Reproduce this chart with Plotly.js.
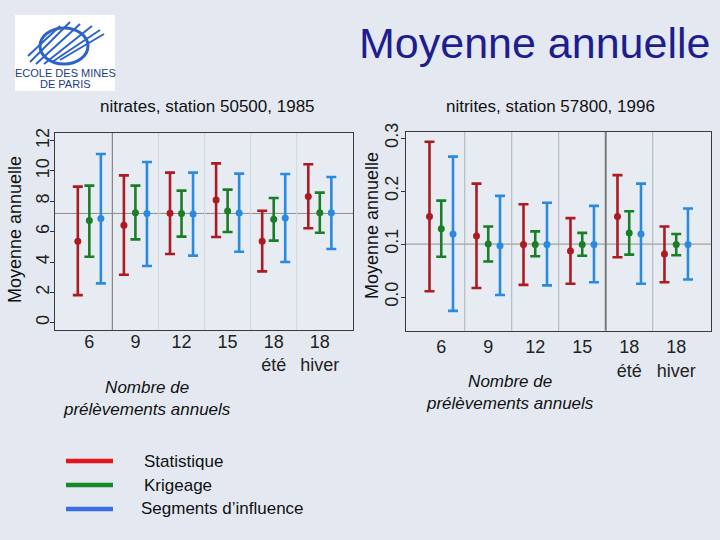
<!DOCTYPE html>
<html><head><meta charset="utf-8">
<script src="https://cdn.plot.ly/plotly-3.0.1.min.js"></script>
<style>body{margin:0;background:#e4e9f1}</style>
</head><body><div id="chart" style="width:720px;height:540px"></div>
<script>
// ---- data ----
const groups = ['6', '9', '12', '15', '18<br>été', '18<br>hiver'];
const seriesNames = ['Statistique', 'Krigeage', 'Segments d\u2019influence'];

// nitrates, station 50500, 1985
const nitStatMean = [5.36, 6.42, 7.21, 8.09, 5.36, 8.31];
const nitStatLow  = [1.82, 3.16, 4.53, 5.65, 3.38, 6.22];
const nitStatHigh = [8.97, 9.71, 9.89, 10.50, 7.38, 10.44];
const nitKrigMean = [6.73, 7.25, 7.19, 7.36, 6.81, 7.25];
const nitKrigLow  = [4.35, 5.49, 5.67, 5.98, 5.41, 5.93];
const nitKrigHigh = [9.03, 9.03, 8.70, 8.77, 8.22, 8.57];
const nitSegMean  = [6.86, 7.19, 7.16, 7.23, 6.90, 7.25];
const nitSegLow   = [2.59, 3.74, 4.42, 4.68, 4.00, 4.86];
const nitSegHigh  = [11.12, 10.59, 9.89, 9.82, 9.80, 9.60];
const nitRef = 7.2;

// nitrites, station 57800, 1996
const ntiStatMean = [0.152, 0.115, 0.099, 0.087, 0.152, 0.081];
const ntiStatLow  = [0.011, 0.017, 0.023, 0.025, 0.075, 0.028];
const ntiStatHigh = [0.293, 0.214, 0.175, 0.149, 0.230, 0.133];
const ntiKrigMean = [0.129, 0.100, 0.099, 0.099, 0.121, 0.099];
const ntiKrigLow  = [0.076, 0.067, 0.077, 0.078, 0.080, 0.079];
const ntiKrigHigh = [0.182, 0.133, 0.124, 0.121, 0.162, 0.119];
const ntiSegMean  = [0.119, 0.097, 0.099, 0.099, 0.119, 0.099];
const ntiSegLow   = [-0.026, 0.004, 0.022, 0.028, 0.025, 0.033];
const ntiSegHigh  = [0.265, 0.191, 0.178, 0.172, 0.214, 0.167];
const ntiRef = 0.1;

const nitTicks = [0, 2, 4, 6, 8, 10, 12];
const ntiTicks = [0, 0.1, 0.2, 0.3];
const ntiTickText = ['0.0', '0.1', '0.2', '0.3'];

// ---- styling ----
const markColors = ['#ad1a22', '#1b7d25', '#2a8ae0'];
const legendColors = ['#e4161b', '#17892a', '#3b6ee3'];
const offsets = [-0.25, 0, 0.25];
const W = 720, H = 540;
const px = v => v / W, py = v => 1 - v / H;
const FONT = 'Liberation Sans, Arial, sans-serif';

const panels = [
  {xa: 'x', ya: 'y', data: [[nitStatMean, nitStatLow, nitStatHigh], [nitKrigMean, nitKrigLow, nitKrigHigh], [nitSegMean, nitSegLow, nitSegHigh]]},
  {xa: 'x2', ya: 'y2', data: [[ntiStatMean, ntiStatLow, ntiStatHigh], [ntiKrigMean, ntiKrigLow, ntiKrigHigh], [ntiSegMean, ntiSegLow, ntiSegHigh]]}
];

const traces = [];
panels.forEach(p => {
  p.data.forEach((d, s) => {
    const [m, lo, hi] = d;
    traces.push({
      type: 'scatter', mode: 'markers', name: seriesNames[s], showlegend: false,
      x: groups.map((g, i) => i + offsets[s]), y: m,
      xaxis: p.xa, yaxis: p.ya,
      marker: {color: markColors[s], size: 7},
      error_y: {type: 'data', symmetric: false,
        array: m.map((v, i) => hi[i] - v), arrayminus: m.map((v, i) => v - lo[i]),
        color: markColors[s], thickness: 2.6, width: 5}
    });
  });
});

const axisBase = {showgrid: false, zeroline: false, showline: true, mirror: true,
  linecolor: '#3a3a3a', linewidth: 1, tickfont: {family: FONT, size: 18, color: '#222'}};

const shapes = [];
// reference lines
shapes.push({type: 'line', xref: 'x domain', yref: 'y', x0: 0, x1: 1, y0: nitRef, y1: nitRef, line: {color: '#8e8e8e', width: 1}, layer: 'below'});
shapes.push({type: 'line', xref: 'x2 domain', yref: 'y2', x0: 0, x1: 1, y0: ntiRef, y1: ntiRef, line: {color: '#8e8e8e', width: 1}, layer: 'below'});
// separators between groups
for (let i = 0; i < groups.length - 1; i++) {
  const b = i + 0.5;
  shapes.push({type: 'line', xref: 'x', yref: 'y domain', x0: b, x1: b, y0: 0, y1: 1,
    line: {color: i === 0 ? '#8a8a8a' : '#d0d6de', width: i === 0 ? 1.3 : 1}, layer: 'below'});
  shapes.push({type: 'line', xref: 'x2', yref: 'y2 domain', x0: b, x1: b, y0: 0, y1: 1,
    line: {color: i === 3 ? '#7a7a7a' : '#aab1ba', width: i === 3 ? 2 : 1}, layer: 'below'});
}
// legend keys
[461, 485, 509].forEach((y, s) => {
  shapes.push({type: 'line', xref: 'paper', yref: 'paper', x0: px(66), x1: px(113), y0: py(y), y1: py(y),
    line: {color: legendColors[s], width: 4.5}});
});
// logo
shapes.push({type: 'rect', xref: 'paper', yref: 'paper', x0: px(15), x1: px(115), y0: py(91), y1: py(15), fillcolor: '#ffffff', line: {width: 0}});
shapes.push({type: 'circle', xref: 'paper', yref: 'paper', x0: px(40), x1: px(88), y0: py(64), y1: py(28), line: {color: '#2d63c8', width: 3}});
[[30, 62, 70, 22], [36, 64, 80, 24], [44, 64, 92, 26], [52, 62, 100, 30], [28, 56, 60, 26], [60, 60, 104, 34]].forEach(l => {
  shapes.push({type: 'line', xref: 'paper', yref: 'paper', x0: px(l[0]), y0: py(l[1]), x1: px(l[2]), y1: py(l[3]), line: {color: '#2d63c8', width: 2}});
});

const annotations = [
  {text: 'Moyenne annuelle', x: px(712), y: py(43), xanchor: 'right', yanchor: 'middle', font: {family: FONT, size: 43, color: '#1d1d90'}},
  {text: 'nitrates, station 50500, 1985', x: px(208), y: py(106), xanchor: 'center', yanchor: 'middle', font: {family: FONT, size: 17, color: '#111'}},
  {text: 'nitrites, station 57800, 1996', x: px(550), y: py(106), xanchor: 'center', yanchor: 'middle', font: {family: FONT, size: 17, color: '#111'}},
  {text: 'Moyenne annuelle', x: px(15), y: py(230), textangle: -90, xanchor: 'center', yanchor: 'middle', font: {family: FONT, size: 18, color: '#111'}},
  {text: 'Moyenne annuelle', x: px(372), y: py(226), textangle: -90, xanchor: 'center', yanchor: 'middle', font: {family: FONT, size: 18, color: '#111'}},
  {text: '<i>Nombre de<br>prélèvements annuels</i>', x: px(147), y: py(398), xanchor: 'center', yanchor: 'middle', font: {family: FONT, size: 17, color: '#111'}},
  {text: '<i>Nombre de<br>prélèvements annuels</i>', x: px(510), y: py(392), xanchor: 'center', yanchor: 'middle', font: {family: FONT, size: 17, color: '#111'}},
  {text: 'ECOLE DES MINES', x: px(65), y: py(73), xanchor: 'center', yanchor: 'middle', font: {family: 'Liberation Sans Narrow, ' + FONT, size: 11, color: '#1b3c8c'}},
  {text: 'DE PARIS', x: px(65), y: py(84), xanchor: 'center', yanchor: 'middle', font: {family: 'Liberation Sans Narrow, ' + FONT, size: 11, color: '#1b3c8c'}}
];
[461, 485, 509].forEach((y, s) => {
  annotations.push({text: seriesNames[s], x: px(s === 2 ? 139 : 142), y: py(y), xanchor: 'left', yanchor: 'middle', font: {family: FONT, size: 17, color: '#111'}});
});
annotations.forEach(a => { a.xref = 'paper'; a.yref = 'paper'; a.showarrow = false; });

const layout = {
  width: W, height: H, margin: {l: 0, r: 0, t: 0, b: 0},
  paper_bgcolor: '#e4e9f1', plot_bgcolor: '#e7ecf3',
  showlegend: false,
  xaxis: Object.assign({}, axisBase, {domain: [px(55), px(353)], range: [-0.745, 5.72], tickvals: groups.map((g, i) => i), ticktext: groups, ticks: '', ticklabelstandoff: -5, anchor: 'y'}),
  yaxis: Object.assign({}, axisBase, {domain: [py(330), py(133)], range: [-0.48, 12.5], tickvals: nitTicks, tickangle: -90, ticks: 'outside', ticklen: 4, tickcolor: '#333', ticklabelstandoff: -6, anchor: 'x'}),
  xaxis2: Object.assign({}, axisBase, {domain: [px(406), px(711)], range: [-0.75, 5.74], tickvals: groups.map((g, i) => i), ticktext: groups, ticks: '', ticklabelstandoff: 0, anchor: 'y2'}),
  yaxis2: Object.assign({}, axisBase, {domain: [py(330.7), py(131.7)], range: [-0.0635, 0.312], tickvals: ntiTicks, ticktext: ntiTickText, tickangle: -90, ticks: 'outside', ticklen: 4, tickcolor: '#333', ticklabelstandoff: -4, anchor: 'x2'}),
  shapes: shapes, annotations: annotations
};

Plotly.newPlot('chart', traces, layout, {displayModeBar: false, staticPlot: true});
</script></body></html>
